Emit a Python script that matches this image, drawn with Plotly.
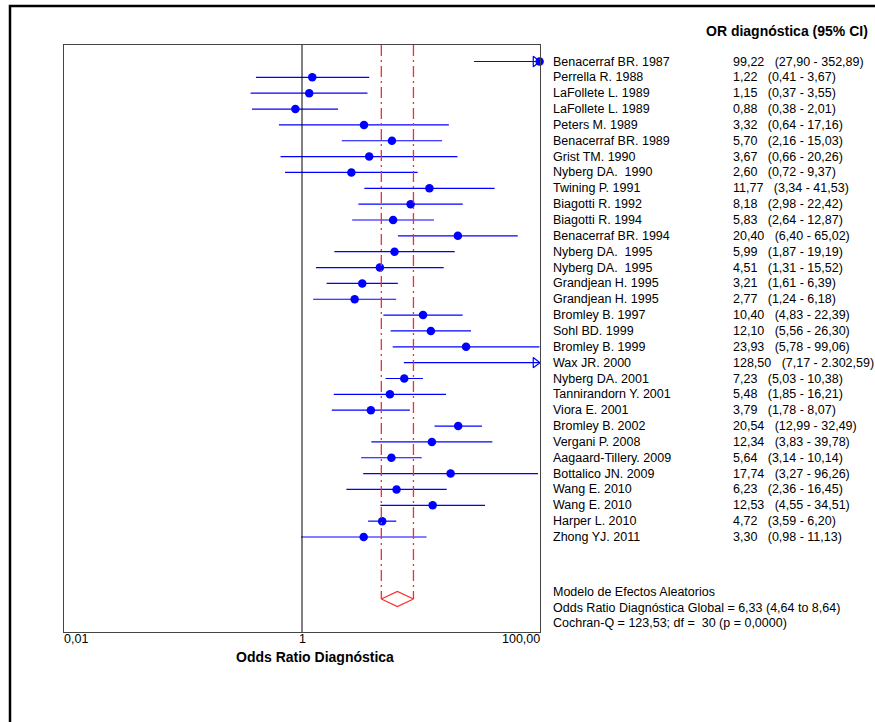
import math
import plotly.graph_objects as go

# ---------------- data ----------------
studies = ["Benacerraf BR. 1987", "Perrella R. 1988", "LaFollete L. 1989", "LaFollete L. 1989",
           "Peters M. 1989", "Benacerraf BR. 1989", "Grist TM. 1990", "Nyberg DA.  1990",
           "Twining P. 1991", "Biagotti R. 1992", "Biagotti R. 1994", "Benacerraf BR. 1994",
           "Nyberg DA.  1995", "Nyberg DA.  1995", "Grandjean H. 1995", "Grandjean H. 1995",
           "Bromley B. 1997", "Sohl BD. 1999", "Bromley B. 1999", "Wax JR. 2000",
           "Nyberg DA. 2001", "Tannirandorn Y. 2001", "Viora E. 2001", "Bromley B. 2002",
           "Vergani P. 2008", "Aagaard-Tillery. 2009", "Bottalico JN. 2009", "Wang E. 2010",
           "Wang E. 2010", "Harper L. 2010", "Zhong YJ. 2011"]
or_vals = [99.22, 1.22, 1.15, 0.88, 3.32, 5.70, 3.67, 2.60, 11.77, 8.18, 5.83, 20.40,
           5.99, 4.51, 3.21, 2.77, 10.40, 12.10, 23.93, 128.50, 7.23, 5.48, 3.79, 20.54,
           12.34, 5.64, 17.74, 6.23, 12.53, 4.72, 3.30]
ci_lo = [27.90, 0.41, 0.37, 0.38, 0.64, 2.16, 0.66, 0.72, 3.34, 2.98, 2.64, 6.40,
         1.87, 1.31, 1.61, 1.24, 4.83, 5.56, 5.78, 7.17, 5.03, 1.85, 1.78, 12.99,
         3.83, 3.14, 3.27, 2.36, 4.55, 3.59, 0.98]
ci_hi = [352.89, 3.67, 3.55, 2.01, 17.16, 15.03, 20.26, 9.37, 41.53, 22.42, 12.87, 65.02,
         19.19, 15.52, 6.39, 6.18, 22.39, 26.30, 99.06, 2302.59, 10.38, 16.21, 8.07, 32.49,
         39.78, 10.14, 96.26, 16.45, 34.51, 6.20, 11.13]

pooled_or, pooled_lo, pooled_hi = 6.33, 4.64, 8.64
x_ticks = [0.01, 1, 100]
x_tick_labels = ["0,01", "1", "100,00"]
header = "OR diagnóstica (95% CI)"
x_title = "Odds Ratio Diagnóstica"
footer_lines = ["Modelo de Efectos Aleatorios",
                "Odds Ratio Diagnóstica Global = 6,33 (4,64 to 8,64)",
                "Cochran-Q = 123,53; df =  30 (p = 0,0000)"]

# ---------------- layout geometry ----------------
W, H = 875, 722
PL, PR, PT, PB = 64, 540, 45, 632          # plot box in pixels
ROW0, ROWSTEP = 61.5, 15.85                 # first row centre & spacing
XLOG = [-2, 2]
PX_PER_DEC = (PR - PL) / (XLOG[1] - XLOG[0])
XMAX = 10 ** XLOG[1]

def px2paper_x(px):
    return (px - PL) / (PR - PL)

def px2paper_y(py):
    return (PB - py) / (PB - PT)

def py2row(py):
    return (py - ROW0) / ROWSTEP

y_top, y_bot = py2row(PT), py2row(PB)
diamond_row = py2row(599)
diamond_half = 7.5 / ROWSTEP

def fmt(v):
    s = f"{v:,.2f}"
    return s.replace(",", "X").replace(".", ",").replace("X", ".")

BLUE = "#0000ff"
RED = "#ff2a2a"
FONT = "Liberation Sans, Arial, sans-serif"
FS = 12.5

fig = go.Figure()

# CI lines
lx, ly = [], []
for i, (lo, hi) in enumerate(zip(ci_lo, ci_hi)):
    lx += [lo, min(hi, XMAX), None]
    ly += [i, i, None]
fig.add_trace(go.Scatter(x=lx, y=ly, mode="lines", line=dict(color=BLUE, width=1.2),
                         hoverinfo="skip", showlegend=False, cliponaxis=True))

# point estimates (only those inside range)
px_, py_ = [], []
for i, v in enumerate(or_vals):
    if v <= XMAX:
        px_.append(v)
        py_.append(i)
fig.add_trace(go.Scatter(x=px_, y=py_, mode="markers",
                         marker=dict(color=BLUE, size=8.5, line=dict(width=0)),
                         showlegend=False, cliponaxis=False))

# arrows for truncated intervals
arrow_x = 10 ** (XLOG[1] - 4.5 / PX_PER_DEC)
ax_, ay_ = [], []
for i, hi in enumerate(ci_hi):
    if hi > XMAX:
        ax_.append(arrow_x)
        ay_.append(i)
fig.add_trace(go.Scatter(x=ax_, y=ay_, mode="markers",
                         marker=dict(symbol="triangle-right-open", color=BLUE, size=9,
                                     line=dict(width=1.2, color=BLUE)),
                         showlegend=False, cliponaxis=False))

# pooled CI vertical dash-dot lines
for v in (pooled_lo, pooled_hi):
    fig.add_trace(go.Scatter(x=[v, v], y=[y_top, diamond_row], mode="lines",
                             line=dict(color=RED, width=1.3, dash="11px,4px,2px,4px"),
                             showlegend=False, hoverinfo="skip"))

# diamond
fig.add_trace(go.Scatter(
    x=[pooled_lo, pooled_or, pooled_hi, pooled_or, pooled_lo],
    y=[diamond_row, diamond_row - diamond_half, diamond_row,
       diamond_row + diamond_half, diamond_row],
    mode="lines", line=dict(color=RED, width=1.2), showlegend=False, hoverinfo="skip"))

# reference line at OR = 1
fig.add_shape(type="line", xref="x", yref="paper", x0=1, x1=1, y0=0, y1=1,
              line=dict(color="black", width=1))

# outer frame (top + left)
fig.add_shape(type="path", xref="paper", yref="paper",
              path=f"M {px2paper_x(10)} {px2paper_y(H + 5)} L {px2paper_x(10)} {px2paper_y(6)} "
                   f"L {px2paper_x(W + 5)} {px2paper_y(6)}",
              line=dict(color="black", width=2.5))

ann = []
# study labels and values
for i, name in enumerate(studies):
    ann.append(dict(x=px2paper_x(551), y=i, xref="paper", yref="y", text=name,
                    xanchor="left", yanchor="middle", showarrow=False,
                    font=dict(family=FONT, size=FS, color="black")))
    ann.append(dict(x=px2paper_x(731), y=i, xref="paper", yref="y",
                    text=f"{fmt(or_vals[i])}&nbsp;&nbsp;&nbsp;({fmt(ci_lo[i])} - {fmt(ci_hi[i])})",
                    xanchor="left", yanchor="middle", showarrow=False,
                    font=dict(family=FONT, size=FS, color="black")))

# header (kept fully inside the page)
ann.append(dict(x=px2paper_x(870), y=px2paper_y(31), xref="paper", yref="paper",
                text=f"<b>{header}</b>", xanchor="right", yanchor="middle", showarrow=False,
                font=dict(family=FONT, size=14, color="black")))

# footer
for k, line in enumerate(footer_lines):
    ann.append(dict(x=px2paper_x(551), y=px2paper_y(592 + 15.5 * k), xref="paper", yref="paper",
                    text=line, xanchor="left", yanchor="middle", showarrow=False,
                    font=dict(family=FONT, size=FS, color="black")))

# x tick labels (log axis annotations use log10 values)
anchors = ["left", "center", "right"]
for v, lab, a in zip(x_ticks, x_tick_labels, anchors):
    ann.append(dict(x=math.log10(v), y=px2paper_y(639), xref="x", yref="paper", text=lab,
                    xanchor=a, yanchor="middle", showarrow=False,
                    xshift=-2 if a == "left" else (2 if a == "right" else 0),
                    font=dict(family=FONT, size=FS, color="black")))

# x title
ann.append(dict(x=px2paper_x(315), y=px2paper_y(657), xref="paper", yref="paper",
                text=f"<b>{x_title}</b>", xanchor="center", yanchor="middle", showarrow=False,
                font=dict(family=FONT, size=14, color="black")))

fig.update_layout(
    width=W, height=H,
    margin=dict(l=PL, r=W - PR, t=PT, b=H - PB, pad=0),
    paper_bgcolor="white", plot_bgcolor="white",
    annotations=ann,
    xaxis=dict(type="log", range=XLOG, showgrid=False, zeroline=False,
               showticklabels=False, ticks="", showline=True, mirror=True,
               linecolor="#444444", linewidth=1),
    yaxis=dict(range=[y_bot, y_top], showgrid=False, zeroline=False,
               showticklabels=False, ticks="", showline=True, mirror=True,
               linecolor="#444444", linewidth=1),
)

fig.write_html("out.html")
